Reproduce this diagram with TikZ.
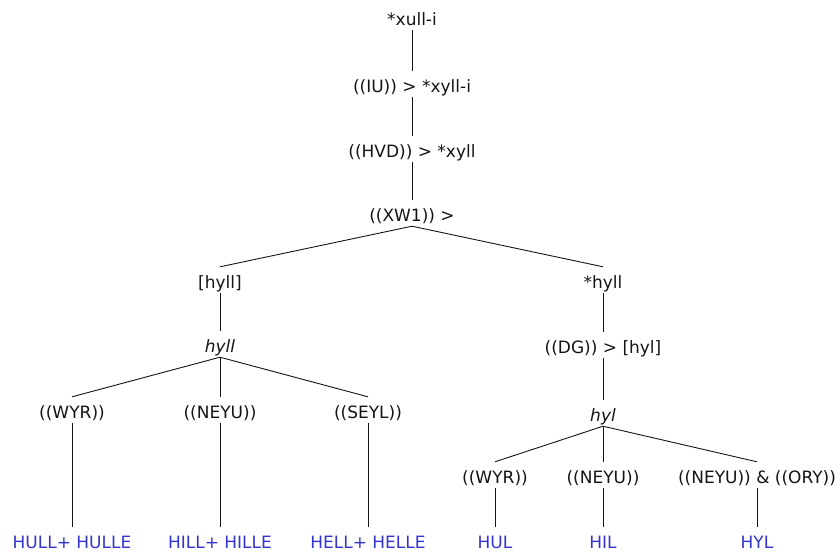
\documentclass[tikz,border=0pt]{standalone}
\usepackage{fontspec}
\setmainfont{DejaVu Sans}
\usepackage{tikz}
\usetikzlibrary{positioning}
\usepackage{xcolor}
\definecolor{formblue}{RGB}{52,52,206}
\definecolor{stemblack}{RGB}{20,20,20}
\tikzstyle{stage} = [anchor=base, inner xsep=1pt, inner ysep=2pt, text height=19pt, text depth=3pt, font=\fontsize{17}{20}\selectfont, text=stemblack]
\tikzstyle{form} = [stage, text=formblue]
\tikzstyle{branch} = [line width=0.9pt, color=stemblack]

\begin{document}
\begin{tikzpicture}[x=1pt, y=-1pt]
\useasboundingbox (0,0) rectangle (840,552);

% Trunk
\node[stage] (root) at (412,25) {*xull-i};
\node[stage] (iu) at (412,92) {((IU)) > *xyll-i};
\node[stage] (hvd) at (412,157) {((HVD)) > *xyll};
\node[stage] (xw) at (412,221) {((XW1)) >};
\draw[branch] (root) -- (iu);
\draw[branch] (iu) -- (hvd);
\draw[branch] (hvd) -- (xw);

% Left branch
\node[stage] (hyllL) at (220,288) {[hyll]};
\node[stage] (hyllI) at (220,352) {\itshape hyll};
\draw[branch] (xw.south) -- (hyllL.north);
\draw[branch] (hyllL) -- (hyllI);

\node[stage] (wyrL) at (72,418) {((WYR))};
\node[stage] (neyuL) at (220,418) {((NEYU))};
\node[stage] (seyl) at (368,418) {((SEYL))};
\draw[branch] (hyllI.south) -- (wyrL.north);
\draw[branch] (hyllI.south) -- (neyuL.north);
\draw[branch] (hyllI.south) -- (seyl.north);

\node[form] (hull) at (72,548) {HULL+ HULLE};
\node[form] (hill) at (220,548) {HILL+ HILLE};
\node[form] (hell) at (368,548) {HELL+ HELLE};
\draw[branch] (wyrL) -- (hull);
\draw[branch] (neyuL) -- (hill);
\draw[branch] (seyl) -- (hell);

% Right branch
\node[stage] (hyllS) at (603,288) {*hyll};
\node[stage] (dg) at (603,353) {((DG)) > [hyl]};
\node[stage] (hylI) at (603,421) {\itshape hyl};
\draw[branch] (xw.south) -- (hyllS.north);
\draw[branch] (hyllS) -- (dg);
\draw[branch] (dg) -- (hylI);

\node[stage] (wyrR) at (495,483) {((WYR))};
\node[stage] (neyuR) at (603,483) {((NEYU))};
\node[stage] (ory) at (757,483) {((NEYU)) \& ((ORY))};
\draw[branch] (hylI.south) -- (wyrR.north);
\draw[branch] (hylI.south) -- (neyuR.north);
\draw[branch] (hylI.south) -- (ory.north);

\node[form] (hul) at (495,548) {HUL};
\node[form] (hil) at (603,548) {HIL};
\node[form] (hyl) at (757,548) {HYL};
\draw[branch] (wyrR) -- (hul);
\draw[branch] (neyuR) -- (hil);
\draw[branch] (ory) -- (hyl);
\end{tikzpicture}
\end{document}
